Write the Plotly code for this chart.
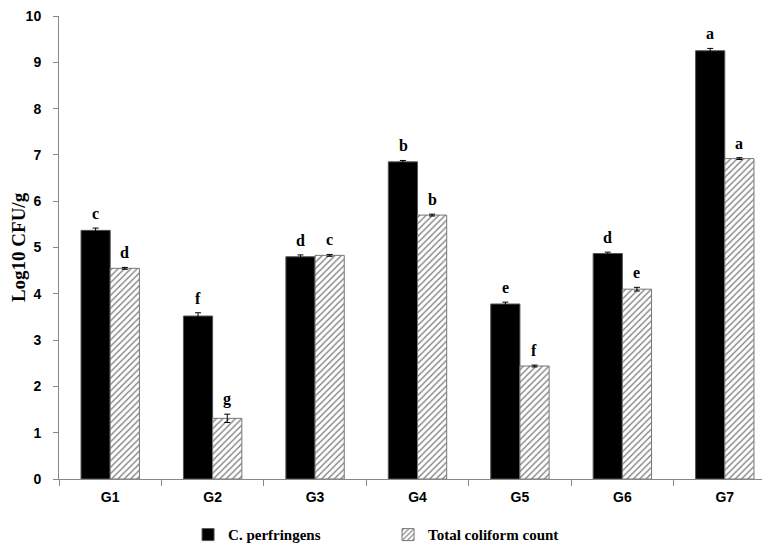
import plotly.graph_objects as go

groups = ["G1", "G2", "G3", "G4", "G5", "G6", "G7"]
perfringens = [5.37, 3.52, 4.80, 6.85, 3.78, 4.87, 9.25]
perfringens_err = [0.05, 0.07, 0.04, 0.03, 0.04, 0.03, 0.05]
perfringens_letters = ["c", "f", "d", "b", "e", "d", "a"]
coliform = [4.55, 1.31, 4.83, 5.70, 2.44, 4.10, 6.92]
coliform_err = [0.02, 0.09, 0.02, 0.02, 0.02, 0.04, 0.02]
coliform_letters = ["d", "g", "c", "b", "f", "e", "a"]
y_ticks = [0, 1, 2, 3, 4, 5, 6, 7, 8, 9, 10]

serif = "Liberation Serif"
sans = "Liberation Sans"

fig = go.Figure()
fig.add_trace(go.Bar(
    x=groups, y=perfringens, name="C. perfringens",
    marker=dict(color="black", line=dict(color="#555", width=1)),
    error_y=dict(type="data", array=perfringens_err, color="black", thickness=1, width=3),
))
fig.add_trace(go.Bar(
    x=groups, y=coliform, name="Total coliform count",
    marker=dict(color="white", line=dict(color="#777", width=1),
                pattern=dict(shape="/", fgcolor="black", bgcolor="white", size=4.5, solidity=0.3)),
    error_y=dict(type="data", array=coliform_err, color="black", thickness=1, width=3),
))

annotations = []
for g, v, e, t in zip(groups, perfringens, perfringens_err, perfringens_letters):
    annotations.append(dict(x=g, y=v + e, text=t, showarrow=False, xshift=-14.5, yshift=4,
                            yanchor="bottom", font=dict(family=serif, size=16, color="black", weight="bold")))
for g, v, e, t in zip(groups, coliform, coliform_err, coliform_letters):
    annotations.append(dict(x=g, y=v + e, text=t, showarrow=False, xshift=14.5, yshift=4,
                            yanchor="bottom", font=dict(family=serif, size=16, color="black", weight="bold")))

fig.update_layout(
    width=770, height=545,
    margin=dict(l=51, r=2, t=8, b=67),
    paper_bgcolor="white", plot_bgcolor="white",
    barmode="group", bargap=0.43, bargroupgap=0,
    annotations=annotations,
    legend=dict(orientation="h", x=0.18, xanchor="left", y=-0.085, yanchor="top",
                font=dict(family=serif, size=15, color="black", weight="bold"),
                entrywidth=155, entrywidthmode="pixels", traceorder="normal"),
    xaxis=dict(showline=True, linecolor="#888", linewidth=1, ticks="outside", tickson="boundaries",
               ticklen=6, tickcolor="#888", showgrid=False, automargin=False, ticklabelstandoff=5,
               tickfont=dict(family=sans, size=14, color="black", weight="bold")),
    yaxis=dict(range=[0, 10], tickvals=y_ticks, showline=True, linecolor="#888", linewidth=1,
               ticks="outside", ticklen=5, tickcolor="#888", showgrid=False, zeroline=False,
               automargin=False, ticklabelstandoff=9, ticklabeloverflow="allow",
               tickfont=dict(family=sans, size=14, color="black", weight="bold"),
               title=dict(text="Log10 CFU/g", font=dict(family=serif, size=19, color="black", weight="bold"),
                          standoff=4)),
)

fig.write_html("out.html")
